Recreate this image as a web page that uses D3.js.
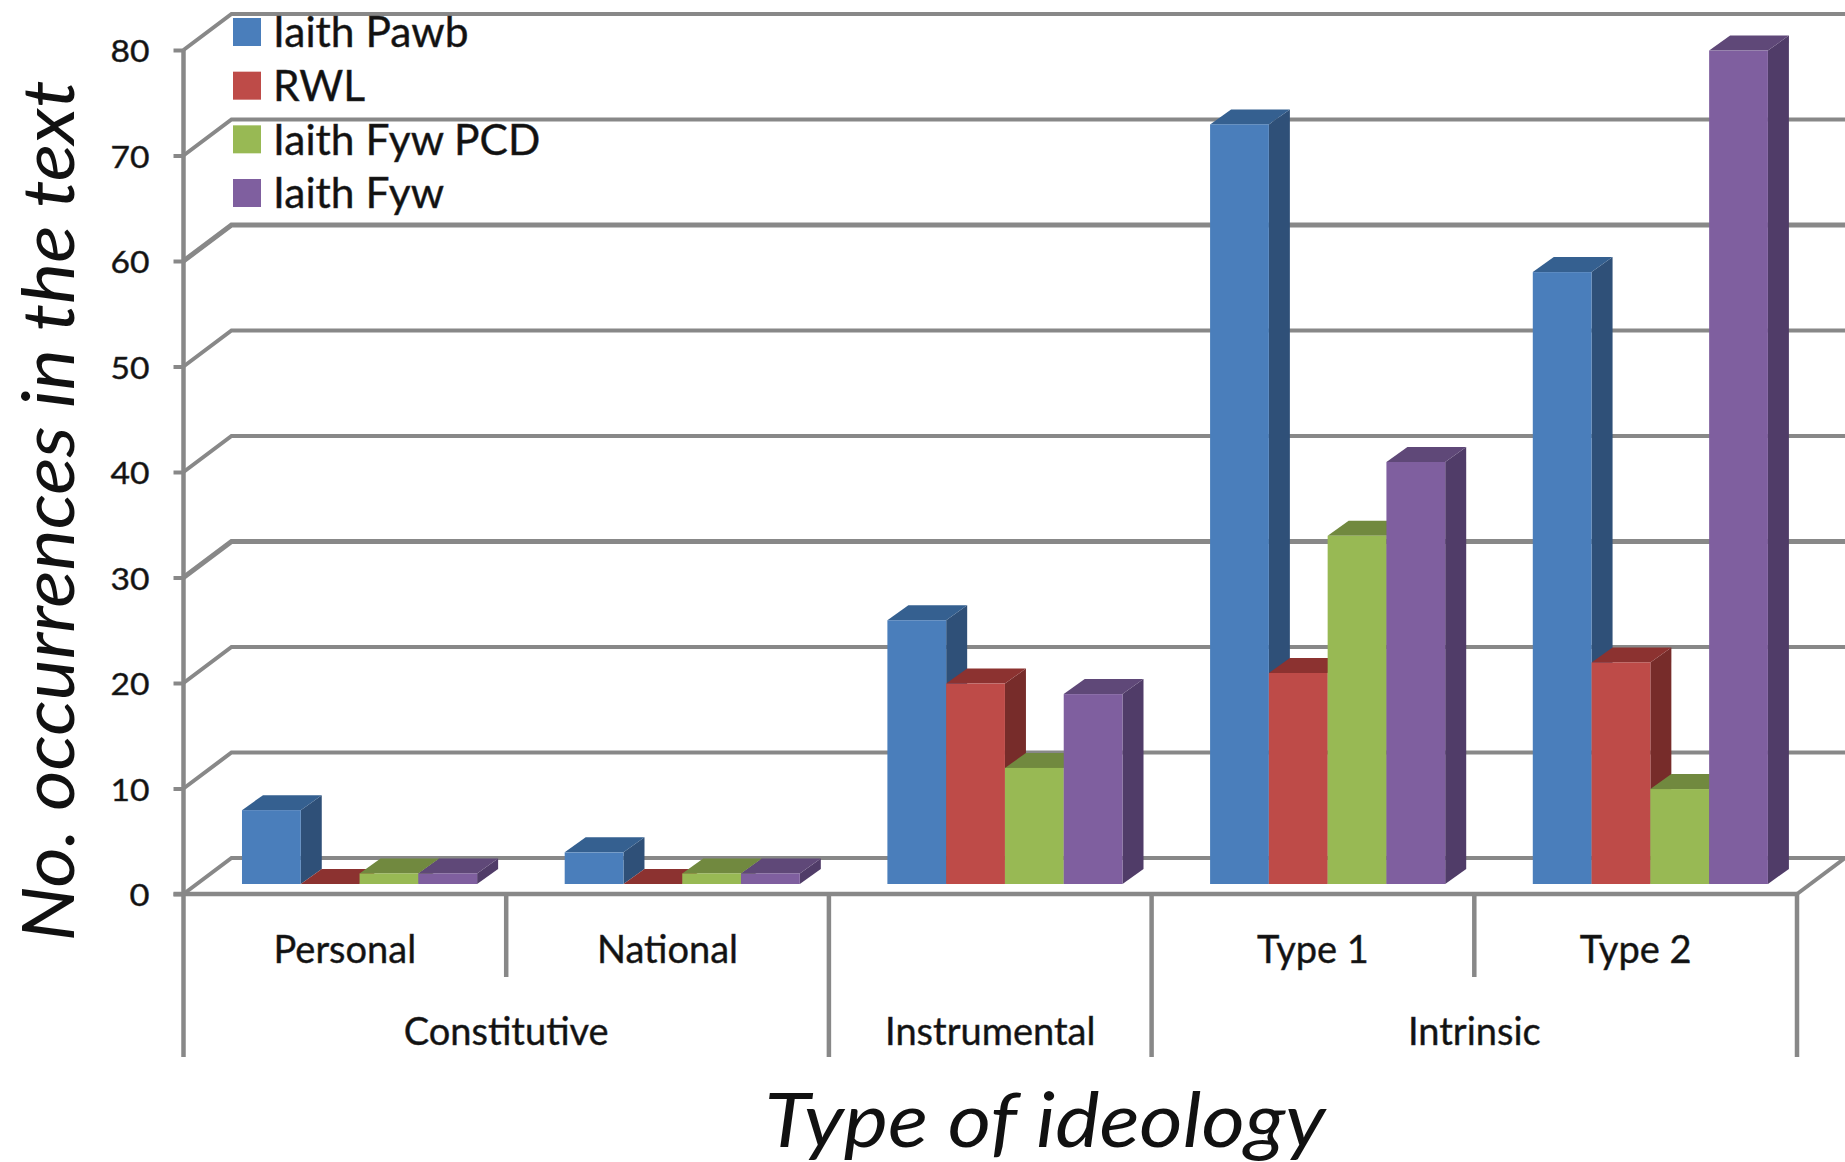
<!DOCTYPE html>
<html>
<head>
<meta charset="utf-8">
<script src="https://cdn.jsdelivr.net/npm/d3@7"></script>
<style>
  html, body { margin: 0; background: #fff; }
  svg { display: block; }
  text { font-family: Lato, "Open Sans", sans-serif; fill: #111; }
  .soft { stroke: #333; stroke-width: 0.45px; }
</style>
</head>
<body>
<script>
const subCategories = ["Personal", "National", "", "Type 1", "Type 2"];
const groups = [
  { label: "Constitutive", span: [0, 2] },
  { label: "Instrumental", span: [2, 3] },
  { label: "Intrinsic", span: [3, 5] }
];
const seriesNames = ["Iaith Pawb", "RWL", "Iaith Fyw PCD", "Iaith Fyw"];
const iaithPawb = [7, 3, 25, 72, 58];
const rwl = [0, 0, 19, 20, 21];
const iaithFywPcd = [1, 1, 11, 33, 9];
const iaithFyw = [1, 1, 18, 40, 79];
const seriesValues = [iaithPawb, rwl, iaithFywPcd, iaithFyw];
const yTicks = [0, 10, 20, 30, 40, 50, 60, 70, 80];

const frontColors = ["#4a7ebb", "#be4b48", "#98b954", "#7f5f9f"];
const topColors = ["#356090", "#8c3230", "#71893f", "#5f4878"];
const sideColors = ["#2f5078", "#772c2a", "#5f7530", "#503c68"];
const swatchColors = ["#4a7ebb", "#be4b48", "#98b954", "#7f5f9f"];
const gridColor = "#888888";

const width = 1845, height = 1162;
const svg = d3.select("body").append("svg").attr("width", width).attr("height", height);

// Frame of the 3D box: front plane and the offset of the back wall
const plot = { left: 183.5, right: 1797, floor: 894, top: 50 };
const wall = { dx: 48, dy: -36 };
const bar = { dx: 21, dy: -15, base: 884, shift: 14.7 };

const yAxisScale = d3.scaleLinear().domain([0, 80]).range([plot.floor, plot.top]);
const yBarScale = d3.scaleLinear().domain([0, 80]).range([bar.base, bar.base - 844]);
const xCat = d3.scaleBand().domain(d3.range(subCategories.length)).range([plot.left, plot.right]);
const xSeries = d3.scaleBand().domain(d3.range(seriesNames.length))
  .range([0, xCat.bandwidth()]).paddingOuter(0.745).paddingInner(0);

// Gridlines: each tick runs up the side wall and along the back wall
const grid = svg.append("g").attr("fill", "none").attr("stroke", gridColor);
grid.selectAll("path").data(yTicks).join("path")
  .attr("stroke-width", d => (d === 60 || d === 30 ? 5 : 4))
  .attr("d", d => {
    const y = yAxisScale(d);
    return d3.line()([[plot.left, y], [plot.left + wall.dx, y + wall.dy], [width + 2, y + wall.dy]]);
  });

// Right edge of the floor
grid.append("path").attr("stroke-width", 4)
  .attr("d", d3.line()([[plot.right, plot.floor], [plot.right + wall.dx, plot.floor + wall.dy]]));

// Bars, drawn left to right so each front covers its neighbour's side
const cols = svg.append("g");
subCategories.forEach((_, c) => {
  seriesNames.forEach((_, s) => {
    const x0 = xCat(c) + xSeries(s) + bar.shift;
    const x1 = x0 + xSeries.bandwidth();
    const yt = yBarScale(seriesValues[s][c]);
    const yb = yBarScale(0);
    const g = cols.append("g");
    g.append("path").attr("fill", sideColors[s]).attr("d", d3.line()([
      [x1, yt], [x1 + bar.dx, yt + bar.dy], [x1 + bar.dx, yb + bar.dy], [x1, yb]
    ]) + "Z");
    g.append("path").attr("fill", topColors[s]).attr("d", d3.line()([
      [x0, yt], [x0 + bar.dx, yt + bar.dy], [x1 + bar.dx, yt + bar.dy], [x1, yt]
    ]) + "Z");
    g.append("rect").attr("fill", frontColors[s])
      .attr("x", x0).attr("y", yt).attr("width", x1 - x0).attr("height", yb - yt);
  });
});

// Value axis
const yAxis = svg.append("g").attr("transform", `translate(${plot.left},0)`)
  .call(d3.axisLeft(yAxisScale).tickValues(yTicks).tickSize(10).tickPadding(24));
yAxis.select(".domain").remove();
yAxis.selectAll("line").attr("stroke", gridColor).attr("stroke-width", 4);
yAxis.selectAll("text").attr("class", "soft").attr("font-size", 31).attr("y", 2)
  .attr("textLength", 39).attr("lengthAdjust", "spacingAndGlyphs")
  .style("font-family", "Lato, sans-serif");
yAxis.selectAll(".tick").filter(d => d === 0).select("text").attr("textLength", 20);

// Category frame: baseline plus long and short dividers
const frame = svg.append("g").attr("stroke", gridColor).attr("stroke-width", 4.5);
const majorAt = [0, 2, 3, 5];
const minorAt = [1, 4];
const edgeX = i => (i === subCategories.length ? plot.right : xCat(i));
frame.append("line").attr("x1", plot.left - 10).attr("x2", plot.right)
  .attr("y1", plot.floor).attr("y2", plot.floor);
frame.append("line").attr("x1", plot.left).attr("x2", plot.left)
  .attr("y1", plot.top).attr("y2", plot.floor);
frame.selectAll(".major").data(majorAt).join("line").attr("class", "major")
  .attr("x1", edgeX).attr("x2", edgeX).attr("y1", plot.floor).attr("y2", 1057);
frame.selectAll(".minor").data(minorAt).join("line").attr("class", "minor")
  .attr("x1", edgeX).attr("x2", edgeX).attr("y1", plot.floor).attr("y2", 977);

// Category labels
svg.append("g").selectAll("text").data(subCategories).join("text")
  .attr("class", "soft")
  .attr("x", (d, i) => xCat(i) + xCat.bandwidth() / 2)
  .attr("y", 950).attr("dy", "0.35em").attr("text-anchor", "middle")
  .attr("font-size", 38).text(d => d);
svg.append("g").selectAll("text").data(groups).join("text")
  .attr("class", "soft")
  .attr("x", d => (edgeX(d.span[0]) + edgeX(d.span[1])) / 2)
  .attr("y", 1032).attr("dy", "0.35em").attr("text-anchor", "middle")
  .attr("font-size", 38).text(d => d.label);

// Legend
const legend = svg.append("g").selectAll("g").data(seriesNames).join("g")
  .attr("transform", (d, i) => `translate(233,${d3.scaleLinear().domain([0, 3]).range([32, 193])(i)})`);
legend.append("rect").attr("y", -14).attr("width", 28).attr("height", 28)
  .attr("fill", (d, i) => swatchColors[i]);
legend.append("text").attr("class", "soft").attr("x", 40).attr("dy", "0.36em")
  .attr("font-size", 42.5).text(d => d);

// Axis titles
svg.append("text").attr("x", 1045).attr("y", 1147).attr("text-anchor", "middle")
  .attr("font-size", 76).attr("font-style", "italic")
  .attr("textLength", 561).attr("lengthAdjust", "spacingAndGlyphs").text("Type of ideology");
svg.append("text").attr("transform", "translate(74,511) rotate(-90)").attr("text-anchor", "middle")
  .attr("font-size", 72).attr("font-style", "italic")
  .attr("textLength", 861).attr("lengthAdjust", "spacingAndGlyphs").text("No. occurrences in the text");
</script>
</body>
</html>
